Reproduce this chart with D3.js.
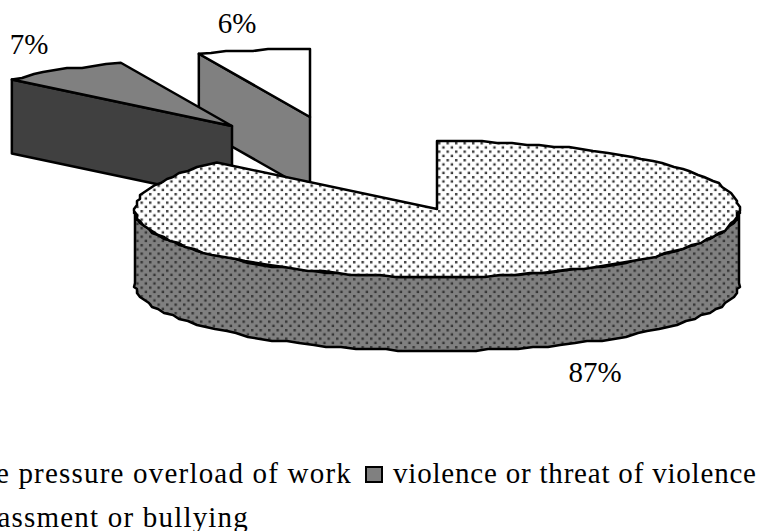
<!DOCTYPE html>
<html>
<head>
<meta charset="utf-8">
<script src="https://cdn.jsdelivr.net/npm/d3@7"></script>
<style>
  html, body { margin: 0; padding: 0; background: #fff; overflow: hidden; }
  text { font-family: "Liberation Serif", serif; fill: #000; }
</style>
</head>
<body>
<svg id="chart" width="763" height="531"></svg>
<script>
  const categories = ["time pressure overload of work", "violence or threat of violence", "harassment or bullying"];
  const values = [87, 7, 6];
  const valueLabels = ["87%", "7%", "6%"];

  const svg = d3.select("#chart");
  const cx = 437, cy = 209, rx = 302, ry = 68, depth = 74;
  const labelPos = [[595, 382], [29, 54], [237, 33]];
  const explode = [[0, 0], [-205, -83], [-127, -92]];

  const defs = svg.append("defs");
  function dots(id, bg) {
    const p = defs.append("pattern").attr("id", id).attr("patternUnits", "userSpaceOnUse")
      .attr("width", 8.5).attr("height", 8.5);
    p.append("rect").attr("width", 8.5).attr("height", 8.5).attr("fill", bg);
    p.append("rect").attr("x", 1).attr("y", 1).attr("width", 2.4).attr("height", 2.4).attr("fill", "#333");
    p.append("rect").attr("x", 5.25).attr("y", 5.25).attr("width", 2.4).attr("height", 2.4).attr("fill", "#333");
  }
  dots("dotsLight", "#fff");
  dots("dotsDark", "#808080");

  const arcs = d3.pie().sort(null)(values);
  const px = a => Math.sin(a) * rx;
  const py = a => -Math.cos(a) * ry;
  const line = d3.line();

  // outer edge snapped to a coarse grid, the original outline is jagged
  function rim(a0, a1) {
    const n = Math.max(2, Math.ceil(Math.abs(a1 - a0) / 0.05));
    return d3.range(n + 1).map(i => {
      const a = a0 + (a1 - a0) * i / n;
      if (i === 0 || i === n) return [px(a), py(a)];
      return [Math.round(px(a) / 3) * 3, Math.round(py(a) / 2) * 2];
    });
  }

  const styles = [
    { top: "url(#dotsLight)", wall: "url(#dotsDark)" },
    { top: "#808080", wall: "#404040" },
    { top: "#fff", wall: "#808080" }
  ];

  // back slices first so the big one sits on top
  [2, 1, 0].forEach(i => {
    const d = arcs[i], s = styles[i];
    const g = svg.append("g").attr("transform", `translate(${cx + explode[i][0]},${cy + explode[i][1]})`);
    const base = g.append("g").attr("stroke", "#000").attr("stroke-width", 2.5).attr("stroke-linejoin", "round");
    if (i === 0) {
      const front = rim(Math.PI / 2, Math.PI * 1.5);
      const wall = front.concat(front.slice().reverse().map(p => [p[0], p[1] + depth]));
      base.append("path").attr("d", line(wall) + "Z").attr("fill", s.wall);
    } else {
      const a = [px(d.startAngle), py(d.startAngle)];
      base.append("path")
        .attr("d", line([a, [0, 0], [0, depth], [a[0], a[1] + depth]]) + "Z")
        .attr("fill", s.wall);
    }
    base.append("path")
      .attr("d", line([[0, 0]].concat(rim(d.startAngle, d.endAngle))) + "Z")
      .attr("fill", s.top);
  });

  svg.selectAll("text.pct").data(valueLabels).join("text").attr("class", "pct")
    .attr("x", (d, i) => labelPos[i][0]).attr("y", (d, i) => labelPos[i][1])
    .attr("text-anchor", "middle").attr("font-size", 29).text(d => d);

  // legend runs off the left edge in the original
  const legend = svg.append("g").attr("font-size", 29);
  legend.append("text").attr("x", 352).attr("y", 483).attr("text-anchor", "end").attr("letter-spacing", 1.2).text(categories[0]);
  legend.append("rect").attr("x", 366).attr("y", 467).attr("width", 16).attr("height", 15)
    .attr("fill", "#808080").attr("stroke", "#000").attr("stroke-width", 2);
  legend.append("text").attr("x", 393).attr("y", 483).attr("letter-spacing", 0.8).text(categories[1]);
  legend.append("text").attr("x", 249).attr("y", 527).attr("text-anchor", "end").attr("letter-spacing", 1.2).text(categories[2]);
</script>
</body>
</html>
